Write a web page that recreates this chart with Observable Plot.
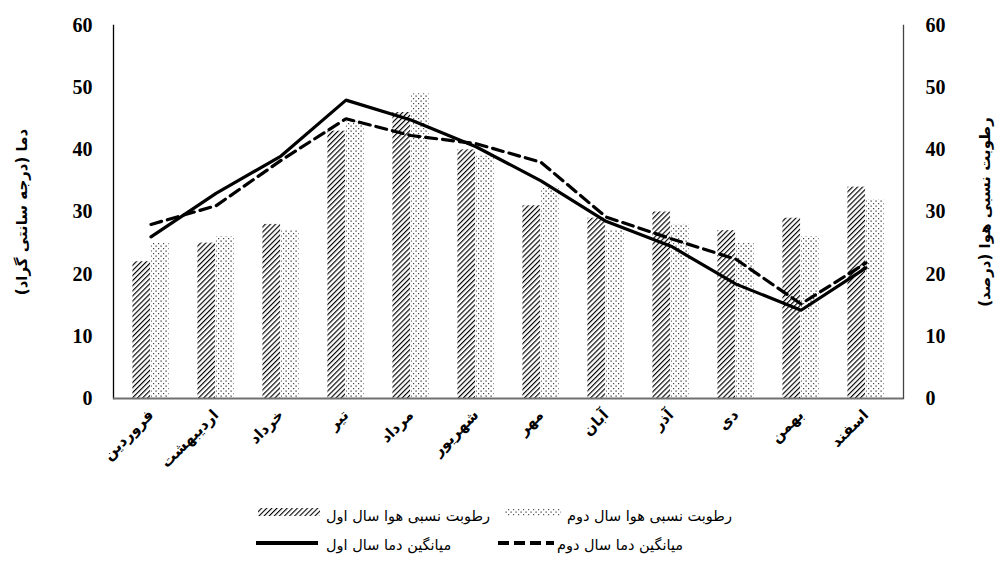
<!DOCTYPE html>
<html><head><meta charset="utf-8">
<script src="https://cdn.jsdelivr.net/npm/d3@7"></script>
<script src="https://cdn.jsdelivr.net/npm/@observablehq/plot@0.6"></script>
<style>
body{margin:0;background:#fff;}
#wrap{position:relative;width:1000px;height:570px;overflow:hidden;}
.lg{position:absolute;font-family:"DejaVu Sans",sans-serif;font-size:14.5px;color:#000;white-space:nowrap;direction:rtl;}
.sw{position:absolute;}
</style></head><body><div id="wrap"></div>
<script>
const months = ["فروردین","اردیبهشت","خرداد","تیر","مرداد","شهریور","مهر","آبان","آذر","دی","بهمن","اسفند"];
const humidityYear1 = [22,25,28,43,46,40,31,29,30,27,29,34];
const humidityYear2 = [25,26,27,44.5,49,39,34,27,28,25,26,32];
const tempYear1 = [26,33,39,48,44.8,40.5,35,28.5,24.5,18.4,14.2,21];
const tempYear2 = [28,31,38.3,45,42.3,41,38,29.2,25.7,22.4,15.2,21.8];
const yTicks = [0,10,20,30,40,50,60];
const leftTitle = "دما (درجه سانتی گراد)";
const rightTitle = "رطوبت نسبی هوا (درصد)";
const legendNames = ["رطوبت نسبی هوا سال اول","رطوبت نسبی هوا سال دوم","میانگین دما سال اول","میانگین دما سال دوم"];

const W = 1000, mL = 113, mR = 97, mT = 25, mB = 92, H = 490;
const bw = (W - mL - mR) / months.length;
const barW = 18.5;
const rows = months.map((m,i)=>({month:m,h1:humidityYear1[i],h2:humidityYear2[i],t1:tempYear1[i],t2:tempYear2[i]}));
const numFont = "'Liberation Serif', 'Times New Roman', serif";
const faFont = "'DejaVu Sans', sans-serif";

const chart = Plot.plot({
  width: W, height: H,
  marginLeft: mL, marginRight: mR, marginTop: mT, marginBottom: mB,
  style: {background:"#fff", fontFamily: numFont},
  x: {domain: months, padding: 0, label: null},
  y: {domain: [0,60], label: null},
  marks: [
    Plot.barY(rows, {x:"month", y:"h1", fill:"url(#hatch)", insetLeft: bw/2 - barW, insetRight: bw/2}),
    Plot.barY(rows, {x:"month", y:"h2", fill:"url(#dots)", insetLeft: bw/2, insetRight: bw/2 - barW}),
    Plot.line(rows, {x:"month", y:"t1", stroke:"#000", strokeWidth:3.2, strokeLinejoin:"miter"}),
    Plot.line(rows, {x:"month", y:"t2", stroke:"#000", strokeWidth:3.2, strokeDasharray:"11,6"}),
    Plot.frame({anchor:"left", stroke:"#000", strokeWidth:1.3}),
    Plot.frame({anchor:"right", stroke:"#444", strokeWidth:1.3}),
    Plot.ruleY([0], {stroke:"#707070", strokeWidth:2.2}),
    Plot.axisY({anchor:"left", ticks:yTicks, tickSize:0, tickPadding:21, label:null, fontSize:20, fontWeight:"bold", fontFamily:numFont}),
    Plot.axisY({anchor:"right", ticks:yTicks, tickSize:0, tickPadding:22, label:null, fontSize:20, fontWeight:"bold", fontFamily:numFont}),
    Plot.axisX({tickSize:0, tickPadding:14, tickRotate:-45, label:null, fontSize:15, fontWeight:"bold", fontFamily:faFont}),
    Plot.text([leftTitle], {frameAnchor:"left", textAnchor:"middle", dx:-91, rotate:-90, fontSize:15, fontWeight:"bold", fontFamily:faFont}),
    Plot.text([rightTitle], {frameAnchor:"right", textAnchor:"middle", dx:82, rotate:-90, fontSize:15, fontWeight:"bold", fontFamily:faFont})
  ]
});

const defs = d3.select(chart).insert("defs", ":first-child");
const hatch = defs.append("pattern").attr("id","hatch").attr("patternUnits","userSpaceOnUse")
  .attr("width",3.6).attr("height",3.6).attr("patternTransform","rotate(45)");
hatch.append("rect").attr("width",3.6).attr("height",3.6).attr("fill","#fff");
hatch.append("line").attr("x1",0).attr("y1",0).attr("x2",0).attr("y2",3.6).attr("stroke","#000").attr("stroke-width",2.3);
const dots = defs.append("pattern").attr("id","dots").attr("patternUnits","userSpaceOnUse")
  .attr("width",5).attr("height",5);
dots.append("rect").attr("width",5).attr("height",5).attr("fill","#fff");
dots.append("rect").attr("x",0.5).attr("y",0.5).attr("width",1.2).attr("height",1.2).attr("fill","#222");
dots.append("rect").attr("x",3).attr("y",3).attr("width",1.2).attr("height",1.2).attr("fill","#444");

const wrap = document.getElementById("wrap");
wrap.appendChild(chart);

// legend
function swatch(x, y, kind){
  const s = document.createElementNS("http://www.w3.org/2000/svg","svg");
  s.setAttribute("class","sw");
  s.setAttribute("width",64); s.setAttribute("height",12);
  s.style.left = x+"px"; s.style.top = y+"px";
  let inner = "";
  if (kind==="hatch") inner = `<defs><pattern id="lh" patternUnits="userSpaceOnUse" width="3.6" height="3.6" patternTransform="rotate(45)"><line x1="0" y1="0" x2="0" y2="3.6" stroke="#000" stroke-width="2.2"/></pattern></defs><rect x="0" y="2" width="62" height="8" fill="url(#lh)"/>`;
  if (kind==="dots") inner = `<defs><pattern id="ld" patternUnits="userSpaceOnUse" width="5" height="5"><rect x="0.5" y="0.5" width="1.2" height="1.2" fill="#333"/><rect x="3" y="3" width="1.2" height="1.2" fill="#555"/></pattern></defs><rect x="0" y="2" width="56" height="8" fill="url(#ld)"/>`;
  if (kind==="solid") inner = `<line x1="0" y1="6" x2="62" y2="6" stroke="#000" stroke-width="4"/>`;
  if (kind==="dash") inner = `<line x1="0" y1="6" x2="56" y2="6" stroke="#000" stroke-width="4" stroke-dasharray="11,5"/>`;
  s.innerHTML = inner;
  wrap.appendChild(s);
}
function label(text, left, y){
  const d = document.createElement("div");
  d.className = "lg"; d.textContent = text;
  d.style.left = left+"px"; d.style.top = y+"px";
  wrap.appendChild(d);
}
swatch(258, 506, "hatch"); label(legendNames[0], 326, 508);
swatch(505, 506, "dots");  label(legendNames[1], 567, 508);
swatch(256, 537, "solid"); label(legendNames[2], 326, 537);
swatch(498, 537, "dash");  label(legendNames[3], 557, 537);
</script></body></html>
